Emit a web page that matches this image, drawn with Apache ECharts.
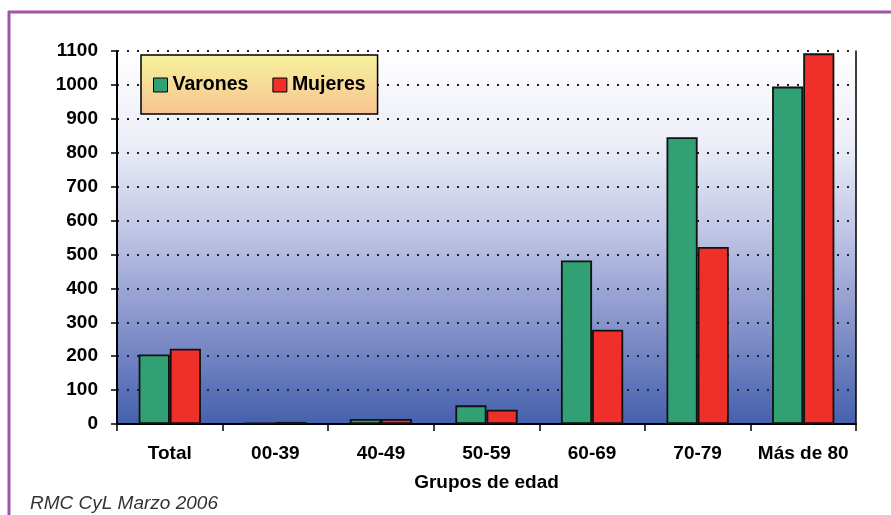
<!DOCTYPE html>
<html>
<head>
<meta charset="utf-8">
<script src="https://cdn.jsdelivr.net/npm/echarts@6/dist/echarts.min.js"></script>
<style>
  html, body { margin: 0; padding: 0; background: #ffffff; }
  #chart { width: 891px; height: 515px; }
</style>
</head>
<body>
<div id="chart"></div>
<script>
// Age groups and rates by sex
const categories = ['Total', '00-39', '40-49', '50-59', '60-69', '70-79', 'Más de 80'];
const varones = [205, 4, 15, 55, 482, 846, 995];
const mujeres = [222, 6, 15, 42, 278, 522, 1093];
const seriesNames = ['Varones', 'Mujeres'];
const yTicks = { min: 0, max: 1100, interval: 100 };

const font = '"Liberation Sans", Arial, sans-serif';
const chart = echarts.init(document.getElementById('chart'));

chart.setOption({
  animation: false,
  textStyle: { fontFamily: font },
  grid: {
    left: 117, right: 35, top: 51, bottom: 91,
    show: true,
    borderWidth: 0,
    backgroundColor: {
      type: 'linear', x: 0, y: 0, x2: 0, y2: 1,
      colorStops: [
        { offset: 0, color: '#ffffff' },
        { offset: 0.25, color: '#eceef8' },
        { offset: 0.5, color: '#bcc2e3' },
        { offset: 0.75, color: '#8290ca' },
        { offset: 1, color: '#4561ad' }
      ]
    }
  },
  legend: {
    left: 141, top: 55,
    padding: [20, 12, 19, 12],
    itemGap: 24,
    itemWidth: 14, itemHeight: 14,
    icon: 'rect',
    itemStyle: { borderColor: '#000', borderWidth: 1 },
    textStyle: { fontFamily: font, fontWeight: 'bold', fontSize: 19.5, color: '#000' },
    borderColor: '#000', borderWidth: 1.5,
    backgroundColor: {
      type: 'linear', x: 0, y: 0, x2: 0, y2: 1,
      colorStops: [
        { offset: 0, color: '#f6f39c' },
        { offset: 1, color: '#f8c292' }
      ]
    },
    data: seriesNames
  },
  xAxis: {
    type: 'category',
    data: categories,
    name: 'Grupos de edad',
    nameLocation: 'middle',
    nameGap: 49,
    nameTextStyle: { fontFamily: font, fontWeight: 'bold', fontSize: 19, color: '#000' },
    axisLine: { lineStyle: { color: '#000', width: 2 } },
    axisTick: { show: true, length: 7, lineStyle: { color: '#000', width: 1.5 } },
    axisLabel: { interval: 0, margin: 20, fontFamily: font, fontWeight: 'bold', fontSize: 19, color: '#000' },
    splitLine: { show: false }
  },
  yAxis: [{
    type: 'value',
    min: yTicks.min, max: yTicks.max, interval: yTicks.interval,
    axisLine: { show: true, lineStyle: { color: '#000', width: 2 } },
    axisTick: { show: true, length: 6, lineStyle: { color: '#000', width: 1.5 } },
    axisLabel: { margin: 19, formatter: v => String(v), fontFamily: font, fontWeight: 'bold', fontSize: 19, color: '#000' },
    splitLine: { show: true, lineStyle: { color: '#222', width: 2, type: [2, 8] } }
  }, {
    type: 'value',
    position: 'right',
    min: yTicks.min, max: yTicks.max, interval: yTicks.interval,
    axisLine: { show: true, lineStyle: { color: '#000', width: 1.5 } },
    axisTick: { show: false },
    axisLabel: { show: false },
    splitLine: { show: false }
  }],
  series: [{
    name: seriesNames[0],
    type: 'bar',
    data: varones,
    barWidth: '29.5%',
    barGap: '0%',
    itemStyle: { color: '#31a075', borderColor: '#111', borderWidth: 1.8 }
  }, {
    name: seriesNames[1],
    type: 'bar',
    data: mujeres,
    barWidth: '29.5%',
    barGap: '0%',
    itemStyle: { color: '#ee2f2a', borderColor: '#111', borderWidth: 1.8 }
  }],
  graphic: [
    { type: 'line', shape: { x1: 8, y1: 12, x2: 891, y2: 12 }, style: { stroke: '#a452a8', lineWidth: 3 } },
    { type: 'line', shape: { x1: 9, y1: 11, x2: 9, y2: 515 }, style: { stroke: '#a452a8', lineWidth: 3 } },
    { type: 'text', left: 30, top: 494, style: { text: 'RMC CyL Marzo 2006', font: 'italic 19px "Liberation Sans", Arial, sans-serif', fill: '#333' } }
  ]
});
</script>
</body>
</html>
